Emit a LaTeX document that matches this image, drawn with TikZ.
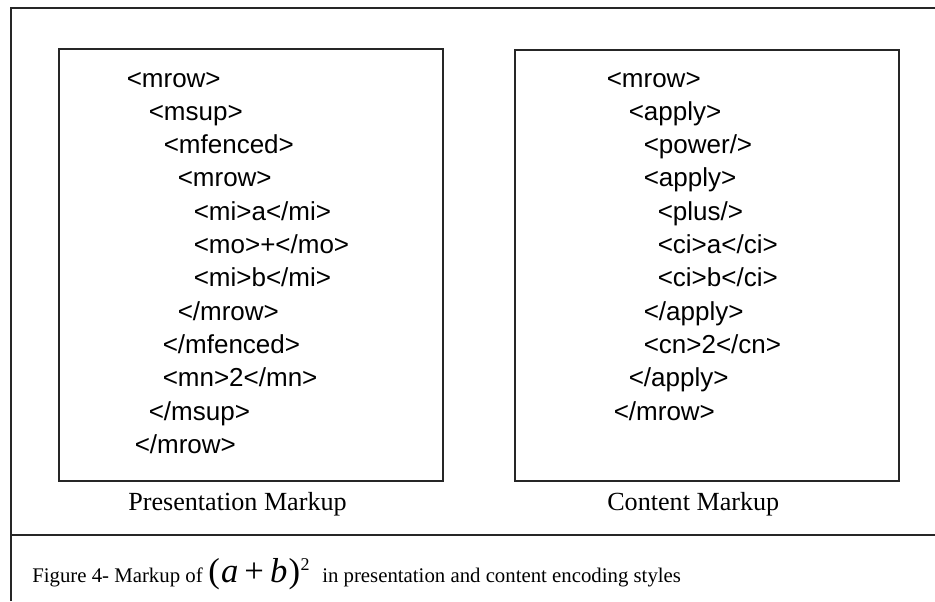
\documentclass[tikz,border=0pt]{standalone}
\usepackage{fontspec}
\setmainfont{Liberation Serif}
\newfontfamily\codefont{Liberation Sans}
\begin{document}
\begin{tikzpicture}[x=0.75pt,y=-0.75pt,
  frame/.style={line width=1.1pt,draw=black!85},
  code/.style={anchor=base west,inner sep=0pt,font=\codefont\fontsize{19.5}{20}\selectfont},
  boxlabel/.style={anchor=base west,inner sep=0pt,font=\fontsize{19.6}{20}\selectfont},
  captext/.style={anchor=base west,inner sep=0pt,font=\fontsize{15.6}{16}\selectfont}]
\useasboundingbox (0,0) rectangle (935,601);

% outer frame and caption separator
\coordinate (fbl) at (11,601);
\coordinate (ftl) at (11,8);
\coordinate (ftr) at (935,8);
\coordinate (sepl) at (11,535);
\coordinate (sepr) at (935,535);
\draw[frame] (fbl) -- (ftl) -- (ftr);
\draw[frame] (sepl) -- (sepr);

% the two markup panels
\draw[frame] (59,49) rectangle (443,481);
\draw[frame] (515,50) rectangle (899,481);

% presentation markup
\node[code] (p1)  at (126.5, 87.0) {<mrow>};
\node[code] (p2)  at (148.5,120.3) {<msup>};
\node[code] (p3)  at (163.5,153.6) {<mfenced>};
\node[code] (p4)  at (177.5,186.9) {<mrow>};
\node[code] (p5)  at (193.5,220.2) {<mi>a</mi>};
\node[code] (p6)  at (193.5,253.5) {<mo>+</mo>};
\node[code] (p7)  at (193.5,286.8) {<mi>b</mi>};
\node[code] (p8)  at (177.5,320.1) {</mrow>};
\node[code] (p9)  at (162.5,353.4) {</mfenced>};
\node[code] (p10) at (162.5,386.7) {<mn>2</mn>};
\node[code] (p11) at (148.5,420.0) {</msup>};
\node[code] (p12) at (134.5,453.3) {</mrow>};

% content markup
\node[code] (c1)  at (606.5, 87.0) {<mrow>};
\node[code] (c2)  at (628.5,120.3) {<apply>};
\node[code] (c3)  at (643.5,153.6) {<power/>};
\node[code] (c4)  at (643.5,186.9) {<apply>};
\node[code] (c5)  at (657.5,220.2) {<plus/>};
\node[code] (c6)  at (657.5,253.5) {<ci>a</ci>};
\node[code] (c7)  at (657.5,286.8) {<ci>b</ci>};
\node[code] (c8)  at (643.5,320.1) {</apply>};
\node[code] (c9)  at (643.5,353.4) {<cn>2</cn>};
\node[code] (c10) at (628.5,386.7) {</apply>};
\node[code] (c11) at (613.5,420.0) {</mrow>};

% panel titles
\node[boxlabel] (plabel) at (128,510) {Presentation Markup};
\node[boxlabel] (clabel) at (607,510) {Content Markup};

% caption with the inline formula (a+b)^2
\node[captext] (cap1) at (32,582) {Figure 4- Markup of};
\node[anchor=base west,inner sep=0pt] (capmath) at (208,582)
  {\fontsize{26}{26}\selectfont(\kern1pt\textit{a}\kern4.5pt+\kern4.5pt\textit{b}\kern1pt)\kern0.3pt\raisebox{9pt}{\fontsize{13.5}{13.5}\selectfont 2}};
\node[captext] (cap2) at (322,582) {in presentation and content encoding styles};
\end{tikzpicture}
\end{document}
